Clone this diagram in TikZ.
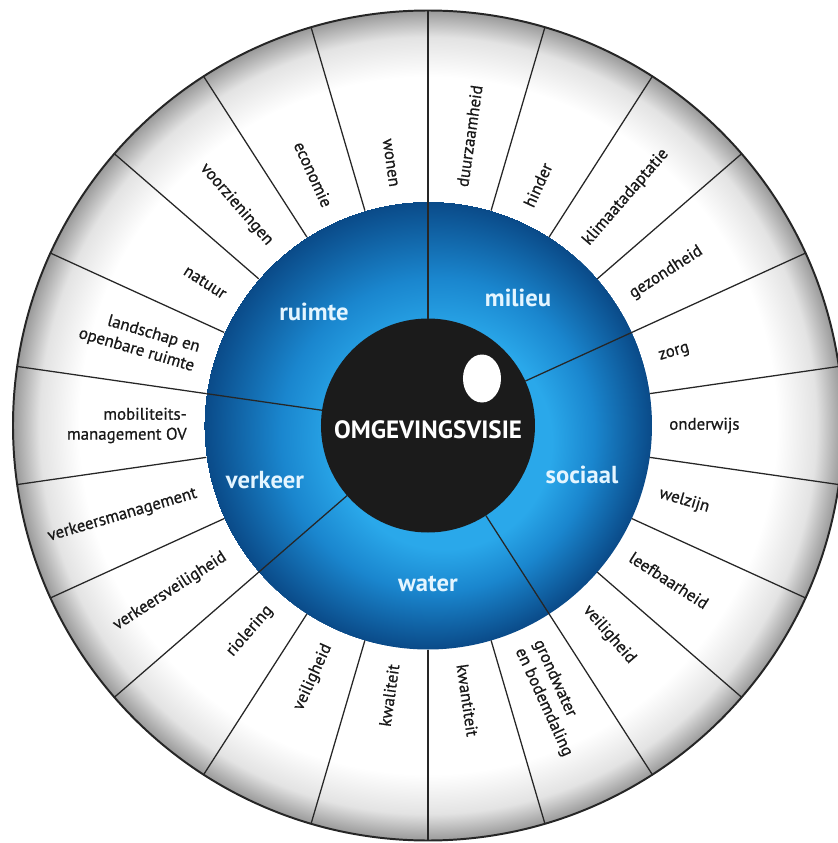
\documentclass[tikz,border=0pt]{standalone}
\usepackage{fontspec}
\setmainfont{PT Sans}
\newfontfamily\itemfont[FakeBold=0.7]{PT Sans}
\definecolor{eyeblack}{HTML}{1B1B1B}
\definecolor{irislight}{HTML}{2AA8EA}
\definecolor{irismid}{HTML}{1A86CE}
\definecolor{irisdark}{HTML}{0A4A88}
\definecolor{themewhite}{HTML}{E4F5FF}
\pgfdeclareradialshading{outerring}{\pgfpoint{0bp}{0bp}}{color(0bp)=(white); color(21bp)=(white); color(23.4bp)=(black!11); color(25bp)=(black!40)}
\pgfdeclareradialshading{iris}{\pgfpoint{3.5bp}{-3.5bp}}{color(0bp)=(irislight); color(12bp)=(irislight); color(17.5bp)=(irismid); color(25bp)=(irisdark)}
\begin{document}
\begin{tikzpicture}[x = 0.025cm, y = 0.025cm,
                    spoke/.style = {line width = 0.9pt, black!85},
                    item/.style = {font = \itemfont\fontsize{12}{14.2}\selectfont, text = black!90, inner sep = 0pt},
                    theme/.style = {font = \bfseries\fontsize{17.5}{20}\selectfont, text = themewhite}]
    \useasboundingbox (-428,-417.5) rectangle (409,425.5);
    \shade[shading = outerring] (0,0) circle (415);
    \shade[shading = iris] (0,0) circle (224);
    \fill[eyeblack] (0,0) circle (107);
    \fill[white] (54,47) ellipse (19 and 24);
    \foreach \k in {0,...,21}
        \draw[spoke] ({90-\k*360/22}:224) -- ({90-\k*360/22}:415);
    \foreach \k in {0,4,9,14,17}
        \draw[spoke] ({90-\k*360/22}:107) -- ({90-\k*360/22}:224);
    \draw[line width = 1.4pt, black!85] (0,0) circle (415);

    \node[font = \bfseries\fontsize{17.8}{20}\selectfont, text = white] (visie) at (0,-4) {OMGEVINGSVISIE};
    \node[theme] (ruimte) at (-114,113.5) {ruimte};
    \node[theme] (milieu) at (90,127.5) {milieu};
    \node[theme] (sociaal) at (154,-49.5) {sociaal};
    \node[theme] (water) at (0,-158.5) {water};
    \node[theme] (verkeer) at (-163,-54.5) {verkeer};

    % rechterhelft
    \node[item, anchor = west, rotate = 81.82] (duurzaamheid) at (81.82:241) {duurzaamheid};
    \node[item, anchor = west, rotate = 65.45] (hinder) at (65.45:241) {hinder};
    \node[item, anchor = west, rotate = 49.09] (klimaat) at (49.09:241) {klimaatadaptatie};
    \node[item, anchor = west, rotate = 32.73] (gezondheid) at (32.73:241) {gezondheid};
    \node[item, anchor = west, rotate = 16.36] (zorg) at (16.36:241) {zorg};
    \node[item, anchor = west, rotate = 0] (onderwijs) at (0:241) {onderwijs};
    \node[item, anchor = west, rotate = -16.36] (welzijn) at (-16.36:241) {welzijn};
    \node[item, anchor = west, rotate = -32.73] (leefbaarheid) at (-32.73:241) {leefbaarheid};
    \node[item, anchor = west, rotate = -49.09] (veiligsociaal) at (-49.09:241) {veiligheid};
    \node[item, anchor = west, rotate = -65.45, align = left] (grondwater) at (-65.45:241) {grondwater\\en bodemdaling};
    \node[item, anchor = west, rotate = -81.82] (kwantiteit) at (-81.82:241) {kwantiteit};
    % linkerhelft
    \node[item, anchor = east, rotate = 81.82] (kwaliteit) at (-98.18:241) {kwaliteit};
    \node[item, anchor = east, rotate = 65.45] (veiligwater) at (-114.55:241) {veiligheid};
    \node[item, anchor = east, rotate = 49.09] (riolering) at (-130.91:241) {riolering};
    \node[item, anchor = east, rotate = 32.73] (verkeersveilig) at (-147.27:241) {verkeersveiligheid};
    \node[item, anchor = east, rotate = 16.36] (verkeersman) at (-163.64:241) {verkeersmanagement};
    \node[item, anchor = east, rotate = 0, align = right] (mobiliteit) at (180:241) {mobiliteits-\\management OV};
    \node[item, anchor = east, rotate = -16.36, align = right] (landschap) at (163.64:241) {landschap en\\openbare ruimte};
    \node[item, anchor = east, rotate = -32.73] (natuur) at (147.27:241) {natuur};
    \node[item, anchor = east, rotate = -49.09] (voorzieningen) at (130.91:241) {voorzieningen};
    \node[item, anchor = east, rotate = -65.45] (economie) at (114.55:241) {economie};
    \node[item, anchor = east, rotate = -81.82] (wonen) at (98.18:241) {wonen};
\end{tikzpicture}
\end{document}
